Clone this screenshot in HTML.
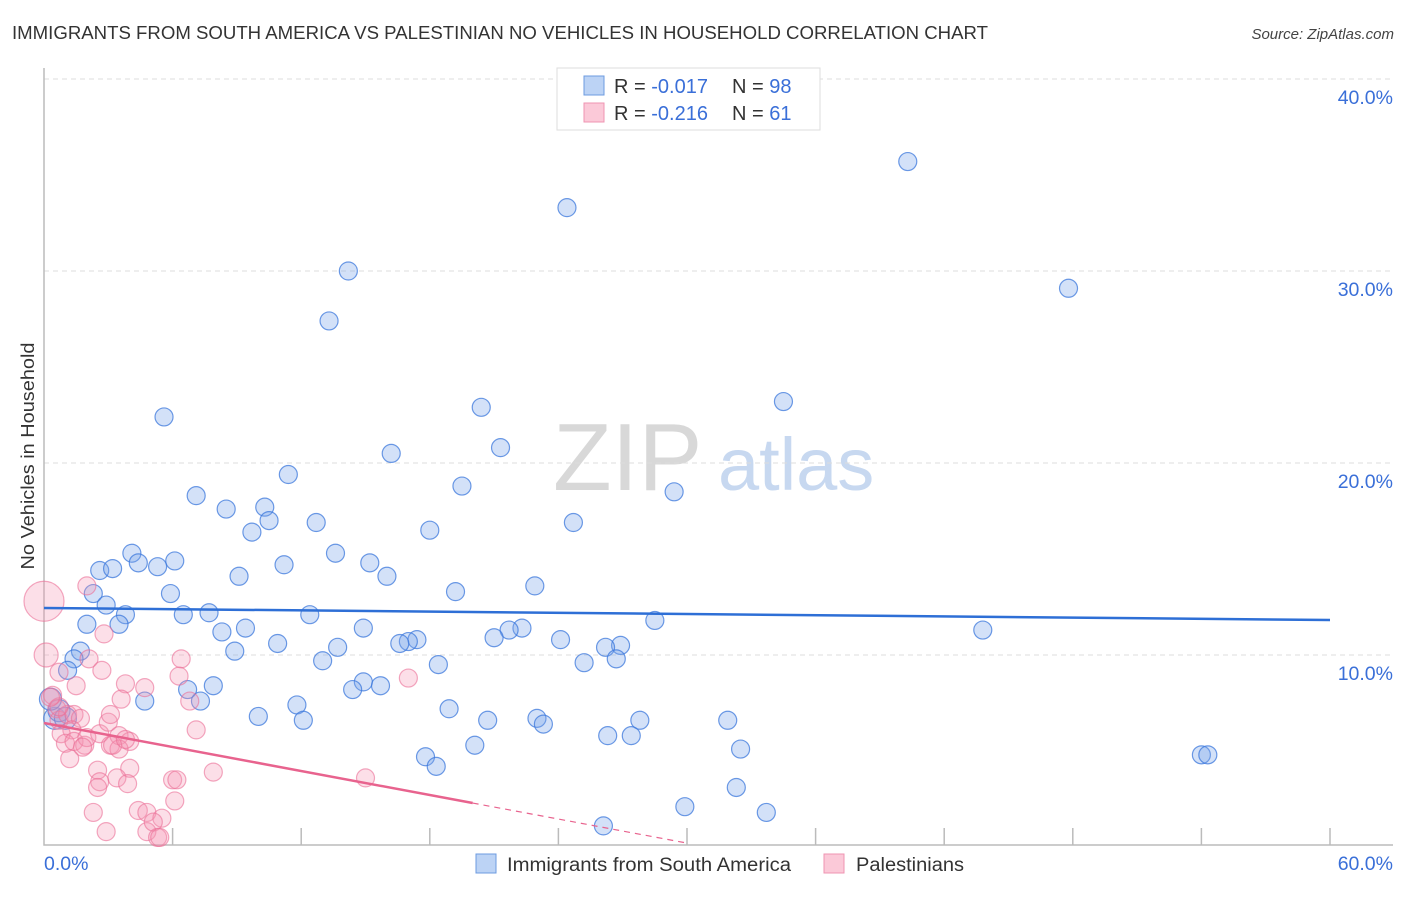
<!DOCTYPE html>
<html><head><meta charset="utf-8"><style>
body{margin:0;background:#fff;font-family:"Liberation Sans",sans-serif;}
svg text{font-family:"Liberation Sans",sans-serif;}
</style></head><body>
<svg id="chart" width="1406" height="892" viewBox="0 0 1406 892" xmlns="http://www.w3.org/2000/svg">
<text x="12" y="39" font-size="18" fill="#333" textLength="976" lengthAdjust="spacingAndGlyphs">IMMIGRANTS FROM SOUTH AMERICA VS PALESTINIAN NO VEHICLES IN HOUSEHOLD CORRELATION CHART</text>
<text x="1394" y="39" font-size="15" fill="#444" font-style="italic" text-anchor="end">Source: ZipAtlas.com</text>
<g>
<text x="553" y="490" font-size="96" fill="#d8d8d8" font-family="Liberation Serif, serif">ZIP</text>
<text x="718" y="490" font-size="74" fill="#c7d8f0">atlas</text>
</g>
<g id="grid"></g>
<g id="axes"></g>
<text transform="translate(34,456) rotate(-90)" font-size="18" fill="#333" text-anchor="middle" textLength="227" lengthAdjust="spacingAndGlyphs">No Vehicles in Household</text>
<g id="pts"></g>
<g id="trend"></g>
<g>
<rect x="557" y="68" width="263" height="62" fill="#fff" stroke="#ddd"/>
<rect x="584" y="76" width="20" height="19" fill="#bcd3f5" stroke="#6c9be0"/>
<rect x="584" y="103" width="20" height="19" fill="#fbc9d8" stroke="#ef94b2"/>
<text x="614" y="93" font-size="20" fill="#333">R = <tspan fill="#3a6fd8">-0.017</tspan><tspan x="732">N = </tspan><tspan fill="#3a6fd8">98</tspan></text>
<text x="614" y="120" font-size="20" fill="#333">R = <tspan fill="#3a6fd8"> -0.216</tspan><tspan x="732">N = </tspan><tspan fill="#3a6fd8"> 61</tspan></text>
</g>
<g>
<rect x="476" y="854" width="20" height="19" fill="#bcd3f5" stroke="#6c9be0"/>
<text x="507" y="871" font-size="19" fill="#333" textLength="284" lengthAdjust="spacingAndGlyphs">Immigrants from South America</text>
<rect x="824" y="854" width="20" height="19" fill="#fbc9d8" stroke="#ef94b2"/>
<text x="856" y="871" font-size="19" fill="#333" textLength="108" lengthAdjust="spacingAndGlyphs">Palestinians</text>
</g>
</svg>
<script>
const blueX=[40.3,24.4,14.2,47.8,13.3,34.5,20.4,5.6,21.3,16.2,11.4,19.5,29.4,7.1,8.5,10.3,10.5,12.7,18.0,24.7,9.7,4.1,6.1,4.4,5.3,13.6,15.2,11.2,2.6,3.2,9.1,16.0,22.9,2.3,5.9,19.2,2.9,3.8,6.5,7.7,12.4,28.5,3.5,2.0,9.4,8.3,14.9,22.3,21.7,21.0,17.4,17.0,16.6,24.1,10.9,13.7,43.8,26.9,26.2,8.9,1.7,1.4,26.7,25.2,13.0,18.4,1.1,6.7,7.9,14.9,15.7,14.4,7.3,4.7,11.8,18.9,10.0,12.1,20.7,23.0,23.3,27.8,31.9,26.3,27.4,32.5,17.8,20.1,18.3,54.0,54.3,32.3,29.9,33.7,26.1,0.5,0.7,0.3,1.0];
const blueY=[35.7,33.3,30.0,29.1,27.4,23.2,22.9,22.4,20.8,20.5,19.4,18.8,18.5,18.3,17.6,17.7,17.0,16.9,16.5,16.9,16.4,15.3,14.9,14.8,14.6,15.3,14.8,14.7,14.4,14.5,14.1,14.1,13.6,13.2,13.2,13.3,12.6,12.1,12.1,12.2,12.1,11.8,11.6,11.6,11.4,11.2,11.4,11.4,11.3,10.9,10.8,10.7,10.6,10.8,10.6,10.4,11.3,10.5,10.4,10.2,10.2,9.8,9.8,9.6,9.7,9.5,9.2,8.2,8.4,8.6,8.4,8.2,7.6,7.6,7.4,7.2,6.8,6.6,6.6,6.7,6.4,6.6,6.6,5.8,5.8,5.1,4.7,5.3,4.2,4.8,4.8,3.1,2.1,1.8,1.1,6.7,7.1,7.7,6.7];
const pinkX=[0,0.1,2.0,2.8,1.5,0.7,2.1,2.7,0.4,0.6,0.7,1.1,1.4,1.7,1.3,0.8,1.0,1.4,1.9,2.0,2.6,3.1,1.8,1.2,2.5,3.0,3.8,3.6,4.7,3.5,4.0,3.5,6.4,6.3,6.8,7.1,4.0,3.4,3.9,2.6,2.5,2.3,4.4,4.8,4.8,5.5,5.1,6.1,6.0,6.2,7.9,15.0,2.9,5.3,5.4,3.2,17.0,3.1,0.7,0.3,3.8];
const pinkY=[12.8,10.0,13.6,11.1,8.4,9.1,9.8,9.2,7.9,7.2,6.6,6.9,6.9,6.7,6.1,5.9,5.4,5.5,5.3,5.7,5.9,5.3,5.2,4.6,4.0,6.5,8.5,7.7,8.3,5.8,5.5,5.1,9.8,8.9,7.6,6.1,4.1,3.6,3.3,3.4,3.1,1.8,1.9,1.8,0.8,1.5,1.3,2.4,3.5,3.5,3.9,3.6,0.8,0.5,0.5,5.3,8.8,6.9,7.3,7.8,5.6];
const pinkR=[20,12];
const yTicks=[10,20,30,40];
const xTicks=[0,6,12,18,24,30,36,42,48,54,60];
const blueTrend=[12.45,11.82];
const pinkTrend=[6.46,-0.2085];
const X0=44,X1=1330,Y0=847,PPY=19.2;
const sx=v=>X0+v*(X1-X0)/60, sy=v=>Y0-v*PPY;
const NS='http://www.w3.org/2000/svg';
function mk(t,a,p){const e=document.createElementNS(NS,t);for(const k in a)e.setAttribute(k,a[k]);p.appendChild(e);return e;}
const grid=document.getElementById('grid'),axes=document.getElementById('axes');
yTicks.forEach(v=>{
 const l=mk('line',{x1:X0,x2:1393,y1:sy(v),y2:sy(v),stroke:'#ddd','stroke-dasharray':'5,4'},grid);
 
 
 const t=mk('text',{x:1393,y:sy(v)+25,'font-size':19.5,fill:'#3a6fd8','text-anchor':'end'},axes);
 t.textContent=v.toFixed(1)+'%';
 
 
});
const ax=mk('path',{d:`M${X0},68V845H1393`,fill:'none',stroke:'#bbb','stroke-width':1.5},axes);


xTicks.forEach(v=>{if(v===0)return;
 const l=mk('line',{x1:sx(v),x2:sx(v),y1:828,y2:845,stroke:'#bbb','stroke-width':1.5},axes);
 
 
});
const xl0=mk('text',{x:44,y:870,'font-size':19.5,fill:'#3a6fd8'},axes);xl0.textContent=xTicks[0].toFixed(1)+'%';


const xl1=mk('text',{x:1393,y:870,'font-size':19.5,fill:'#3a6fd8','text-anchor':'end'},axes);xl1.textContent=xTicks[xTicks.length-1].toFixed(1)+'%';


const pts=document.getElementById('pts');
blueX.forEach((x,i)=>{
 const c=mk('circle',{cx:sx(x),cy:sy(blueY[i]),r:(x<1.2&&blueY[i]<8)?11:9,fill:'rgba(120,165,235,0.33)',stroke:'rgba(60,120,220,0.75)','stroke-width':1.2},pts);
 
 
});
pinkX.forEach((x,i)=>{
 const c=mk('circle',{cx:sx(x),cy:sy(pinkY[i]),r:pinkR[i]||9,fill:'rgba(245,150,180,0.3)',stroke:'rgba(235,110,150,0.6)','stroke-width':1.2},pts);
 
 
});
const tr=document.getElementById('trend');
const bl=mk('line',{x1:sx(0),y1:sy(blueTrend[0]),x2:sx(60),y2:sy(blueTrend[1]),stroke:'#2e6fd6','stroke-width':2.5},tr);


const py=x=>pinkTrend[0]+pinkTrend[1]*x;
const pl=mk('line',{x1:sx(0),y1:sy(py(0)),x2:sx(20),y2:sy(py(20)),stroke:'#e8638e','stroke-width':2.5},tr);


const pd=mk('line',{x1:sx(20),y1:sy(py(20)),x2:sx(30),y2:sy(py(30)),stroke:'#e8638e','stroke-width':1.2,'stroke-dasharray':'6,5'},tr);


</script>
</body></html>
